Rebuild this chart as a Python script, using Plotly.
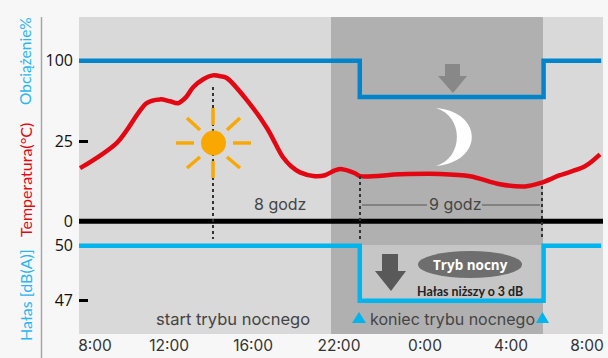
import plotly.graph_objects as go

# Data (x = hours along the drawn time axis)
temp_h = [0.05,1.9,3.35,4.0,4.5,4.9,5.3,5.65,6.15,6.63,7.03,7.33,8.32,9.31,10.1,10.5,10.94,11.68,12.18,12.67,13.02,13.66,13.91,15.89,17.87,19.36,20.84,22.08,22.82,23.81,25.05,25.79]
temp_c = [16.6,24.7,36.9,38.1,37.5,36.9,38.8,41.9,44.4,45.6,45.3,44.7,37.8,29.1,20,17.2,15.3,14.1,14.4,15.9,16.3,15,14.1,14.7,14.8,14.1,11.6,10.9,11.9,14.4,17.2,20.9]
load_h = [0,13.9,13.9,23.0,23.0,25.85]
load_pct = [100,100,80,80,100,100]
noise_h = [0,13.9,13.9,23.0,23.0,25.85]
noise_db = [50,50,47,47,50,50]
zero_h = [0,25.94]
zero_v = [0,0]
time_pos = [0.79,4.46,8.62,12.87,17.13,21.39,25.15]
time_labels = ["8:00","12:00","16:00","22:00","0:00","4:00","8:00"]

W,H=608,358
L,R,T,B=79,603,17,334
FONT="Inter"
TICKFONT="Open Sans"
LABELFONT="Lato"
RED="#e30613"; BLUE="#0085cc"; CYAN="#00b4ee"
xmax=(R-L)/20.2

fig=go.Figure()
fig.add_trace(go.Scatter(x=zero_h,y=zero_v,yaxis="y",mode="lines",line=dict(color="#000",width=5),cliponaxis=False))
fig.add_trace(go.Scatter(x=temp_h,y=temp_c,yaxis="y",mode="lines",line=dict(color=RED,width=4.5,shape="spline",smoothing=0.9),cliponaxis=False))
fig.add_trace(go.Scatter(x=load_h,y=load_pct,yaxis="y2",mode="lines",line=dict(color=BLUE,width=4.5),cliponaxis=False))
fig.add_trace(go.Scatter(x=noise_h,y=noise_db,yaxis="y3",mode="lines",line=dict(color=CYAN,width=4.5),cliponaxis=False))

shapes=[]
def X(x): return (x-L)/(R-L)
def Y(y): return (B-y)/(B-T)
def rect(x0,y0,x1,y1,c,layer="below"):
    shapes.append(dict(type="rect",xref="paper",yref="paper",x0=X(x0),x1=X(x1),y0=Y(y0),y1=Y(y1),fillcolor=c,line_width=0,layer=layer))
def line(x0,y0,x1,y1,c,w,dash=None,layer="above"):
    shapes.append(dict(type="line",xref="paper",yref="paper",x0=X(x0),x1=X(x1),y0=Y(y0),y1=Y(y1),line=dict(color=c,width=w,dash=dash or "solid"),layer=layer))
def poly(pts,c,layer="above"):
    d="M"+" L".join(f"{X(a):.5f},{Y(b):.5f}" for a,b in pts)+" Z"
    shapes.append(dict(type="path",xref="paper",yref="paper",path=d,fillcolor=c,line_width=0,layer=layer))

rect(331,T,543,B,"#b0b0b0")
rect(358,245,543,300,"#c6c6c6")
line(41.5,T,41.5,358,"#a6a6a6",1.5)
for x,y0,y1 in [(213,87,239),(360,176,239),(542,186,239)]:
    line(x,y0,x,y1,"#333333",2,"dot")
line(362,205,427,205,"#555555",1)
line(482,205,540,205,"#555555",1)
SUN="#f8a800"
shapes.append(dict(type="circle",xref="paper",yref="paper",x0=X(201),x1=X(226),y0=Y(155.5),y1=Y(130.5),fillcolor=SUN,line_width=0,layer="above"))
for a,b,c,d in [(213,108,213,125),(213,161,213,178),(176,143,194,143),(233,143,251,143),(187,118,200,130),(240,118,227,130),(187,168,200,157),(240,168,227,157)]:
    line(a,b,c,d,SUN,3.5)
shapes.append(dict(type="path",xref="paper",yref="paper",
    path=f"M{X(436):.5f},{Y(108):.5f} C{X(484):.5f},{Y(112):.5f} {X(484):.5f},{Y(162):.5f} {X(436):.5f},{Y(166):.5f} C{X(464):.5f},{Y(158):.5f} {X(464):.5f},{Y(116):.5f} {X(436):.5f},{Y(108):.5f} Z",
    fillcolor="#ffffff",line_width=0,layer="above"))
poly([(445,64),(460,64),(460,76),(467,76),(453,93),(438,76),(445,76)],"#888888")
poly([(382,254),(398,254),(398,271),(406,271),(391,291),(375,271),(382,271)],"#595959")
shapes.append(dict(type="circle",xref="paper",yref="paper",x0=X(418),x1=X(522),y0=Y(278),y1=Y(251),fillcolor="#6e6e6e",line_width=0,layer="above"))
poly([(352,323),(366,323),(359,312)],CYAN)
poly([(536,323),(549,323),(542.5,312)],CYAN)

ann=[]
def text(x,y,t,size,color,angle=0,family=FONT):
    ann.append(dict(xref="paper",yref="paper",x=X(x),y=Y(y),text=t,showarrow=False,font=dict(size=size,color=color,family=family),textangle=angle,xanchor="center",yanchor="middle"))
text(25,61,"Obciążenie%",15.5,"#29b6ef",-90,LABELFONT)
text(25,180,"Temperatura(°C)",16,RED,-90,LABELFONT)
text(25,295,"Hałas [dB(A)]",16,"#29b6ef",-90,LABELFONT)
text(280,204,"8 godz",16,"#444444")
text(454.5,204,"9 godz",16,"#444444")
text(233,319,"start trybu nocnego",16.5,"#444444")
text(452,319,"koniec trybu nocnego",16,"#444444")
text(470,265,"<b>Tryb nocny</b>",13.5,"#ffffff",0,"Open Sans")
text(470,291,"<b>Hałas niższy o 3 dB</b>",12.4,"#222222",0,LABELFONT)

scale_temp=3.2
scale_load=(97-60.7)/20
scale_noise=(300.7-245.7)/3
def rng(ref_py,ref_v,scale):
    return [ref_v-(B-ref_py)/scale, ref_v+(ref_py-T)/scale]
yaxis_common=dict(automargin=False,showgrid=False,zeroline=False,showline=False,ticks="inside",ticklen=9,tickwidth=2.5,tickcolor="#000",tickfont=dict(size=16,color="#111",family=TICKFONT),layer="below traces",fixedrange=True,ticklabelstandoff=5)
fig.update_layout(
    width=W,height=H,margin=dict(l=L,r=W-R,t=T,b=H-B),
    paper_bgcolor="#f7f7f7",plot_bgcolor="#d9d9d9",showlegend=False,
    xaxis=dict(automargin=False,range=[0,xmax],tickmode="array",tickvals=time_pos,ticktext=time_labels,ticks="",showgrid=False,zeroline=False,showline=False,tickfont=dict(size=15.5,color="#333",family=FONT)),
    yaxis=dict(range=rng(221.3,0,scale_temp),tickmode="array",tickvals=[0,25],ticktext=["0","25"],**yaxis_common),
    yaxis2=dict(range=rng(60.7,100,scale_load),tickmode="array",tickvals=[100],ticktext=["100"],overlaying="y",**yaxis_common),
    yaxis3=dict(range=rng(245.7,50,scale_noise),tickmode="array",tickvals=[50,47],ticktext=["50","47"],overlaying="y",**yaxis_common),
    shapes=shapes,annotations=ann)
fig.write_html("out.html",config=dict(displayModeBar=False),post_script="document.body.style.margin='0';document.body.style.background='#f7f7f7';")
